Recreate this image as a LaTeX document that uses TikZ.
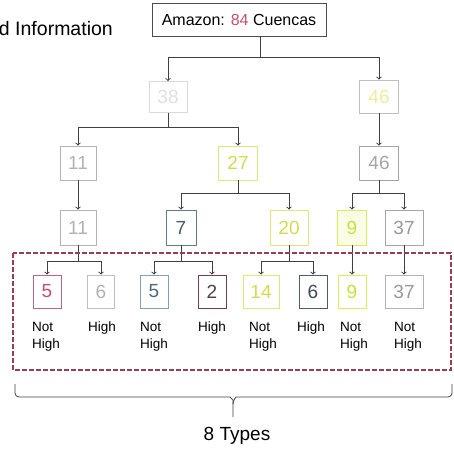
\documentclass[tikz,border=0pt]{standalone}
\usepackage{fontspec}
\setmainfont{Liberation Sans}

\definecolor{pinkred}{RGB}{196,78,112}
\definecolor{pinkline}{RGB}{186,100,140}
\definecolor{yelline}{RGB}{226,230,120}
\definecolor{yeltext}{RGB}{214,216,80}
\definecolor{limeline}{RGB}{220,236,90}
\definecolor{limetext}{RGB}{200,224,60}
\definecolor{slateline}{RGB}{96,124,136}
\definecolor{slatetext}{RGB}{70,92,104}
\definecolor{skyline}{RGB}{130,160,180}
\definecolor{skytext}{RGB}{76,104,124}
\definecolor{mauveline}{RGB}{112,62,84}
\definecolor{mauvetext}{RGB}{80,62,72}
\definecolor{navyline}{RGB}{74,92,112}
\definecolor{navytext}{RGB}{62,72,86}
\definecolor{framered}{RGB}{150,62,84}

\begin{document}
\begin{tikzpicture}[x=1pt, y=-1pt,
	line/.style={line width=1pt, color=black!75},
	arr/.style={->, line width=1pt, color=black!75},
	box/.style={draw, line width=0.8pt, inner sep=0pt, minimum height=34pt, font=\fontsize{19}{19}\selectfont},
	leaf/.style={box, minimum height=33pt},
	note/.style={anchor=north west, align=left, inner sep=0pt, font=\fontsize{13.5}{17}\selectfont}]
	\useasboundingbox (0,0) rectangle (454,449);

	\node[anchor=east, inner sep=0pt, font=\fontsize{19.5}{19.5}\selectfont](title) at (113,29){d Information};
	\node[box, draw=black!70, minimum width=174pt, minimum height=33pt, font=\fontsize{16}{16}\selectfont](amazon) at (239,19.5){Amazon: \textcolor{pinkred}{84} Cuencas};

	\node[box, draw=black!15, text=black!12, minimum width=38pt, minimum height=31pt](n38) at (168,97){38};
	\node[box, draw=black!25, text=yelline!70, minimum width=39pt, minimum height=33pt](n46a) at (379,96.5){46};

	\node[box, draw=black!30, text=black!30, minimum width=36pt](n11a) at (78,163){11};
	\node[box, draw=yelline, text=yeltext, minimum width=39pt](n27) at (238,163){27};
	\node[box, draw=black!35, text=black!35, minimum width=39pt](n46b) at (379,163){46};

	\node[box, draw=black!30, text=black!30, minimum width=36pt, minimum height=35pt](n11b) at (78,227.5){11};
	\node[box, draw=slateline, text=slatetext, minimum width=30pt, minimum height=35pt](n7) at (181,227.5){7};
	\node[box, draw=yelline, text=yeltext, minimum width=38pt, minimum height=35pt](n20) at (289,227.5){20};
	\node[box, draw=limeline, text=limetext, fill=limeline!15, minimum width=29pt, minimum height=35pt](n9) at (352,227.5){9};
	\node[box, draw=black!35, text=black!40, minimum width=38pt, minimum height=35pt](n37) at (404,227.5){37};

	\node[leaf, draw=pinkline, text=pinkred, minimum width=28pt](l5a) at (47,291.5){5};
	\node[leaf, draw=black!25, text=black!30, minimum width=27pt](l6a) at (101,291.5){6};
	\node[leaf, draw=skyline, text=skytext, minimum width=28pt](l5b) at (154,291.5){5};
	\node[leaf, draw=mauveline, text=mauvetext, minimum width=28pt](l2) at (212,291.5){2};
	\node[leaf, draw=yelline, text=yeltext, minimum width=36pt](l14) at (261,291.5){14};
	\node[leaf, draw=navyline, text=navytext, minimum width=28pt](l6b) at (313,291.5){6};
	\node[leaf, draw=limeline, text=limetext, minimum width=28pt](l9) at (352,291.5){9};
	\node[leaf, draw=black!30, text=black!40, minimum width=38pt](l37) at (404,291.5){37};

	\node[note](t5a) at (32,322){Not\\High};
	\node[note](t6a) at (88,322){High};
	\node[note](t5b) at (140,322){Not\\High};
	\node[note](t2) at (198,322){High};
	\node[note](t14) at (249,322){Not\\High};
	\node[note](t6b) at (297,322){High};
	\node[note](t9) at (340,322){Not\\High};
	\node[note](t37) at (394,322){Not\\High};

	\coordinate (jamazon) at (260,58);
	\coordinate (j38) at (168,128);
	\coordinate (j27) at (238,193);
	\coordinate (j46) at (379,193);
	\coordinate (j11) at (78,261);
	\coordinate (j7) at (181,261);
	\coordinate (j20) at (289,261);

	\draw[line] (amazon.south -| jamazon) -- (jamazon);
	\draw[arr] (jamazon) -| (n38);
	\draw[arr] (jamazon) -| (n46a);
	\draw[line] (n38) -- (j38);
	\draw[arr] (j38) -| (n11a);
	\draw[arr] (j38) -| (n27);
	\draw[arr] (n46a) -- (n46b);
	\draw[arr] (n11a) -- (n11b);
	\draw[line] (n27) -- (j27);
	\draw[arr] (j27) -| (n7);
	\draw[arr] (j27) -| (n20);
	\draw[line] (n46b) -- (j46);
	\draw[arr] (j46) -| (n9);
	\draw[arr] (j46) -| (n37);
	\draw[line] (n11b) -- (j11);
	\draw[arr] (j11) -| (l5a);
	\draw[arr] (j11) -| (l6a);
	\draw[line] (n7) -- (j7);
	\draw[arr] (j7) -| (l5b);
	\draw[arr] (j7) -| (l2);
	\draw[line] (n20) -- (j20);
	\draw[arr] (j20) -| (l14);
	\draw[arr] (j20) -| (l6b);
	\draw[arr] (n9) -- (l9);
	\draw[arr] (n37) -- (l37);

	\draw[dash pattern=on 5pt off 2pt, line width=1.1pt, color=framered] (13,253) rectangle (451,370);

	\draw[line, line width=0.8pt, rounded corners=4pt] (15,384) -- (15,397) -- (226,397) to[out=0,in=90] (233,404) -- (233,417);
	\draw[line, line width=0.8pt, rounded corners=4pt] (452,384) -- (452,397) -- (240,397) to[out=180,in=90] (233,404);
	\node[font=\fontsize{19}{19}\selectfont](types) at (237,436){8 Types};
\end{tikzpicture}
\end{document}
